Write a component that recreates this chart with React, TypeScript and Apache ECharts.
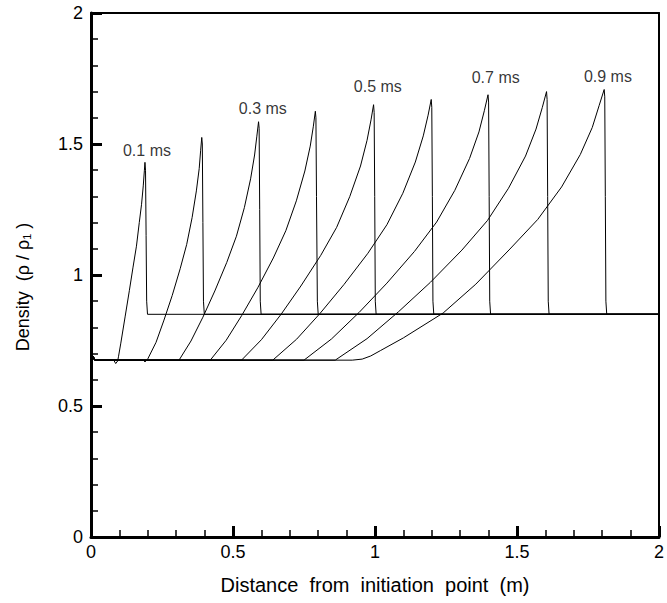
import React, { useEffect, useRef } from "react";
import * as echarts from "echarts";

const xTicks = [0, 0.5, 1, 1.5, 2];
const yTicks = [0, 0.5, 1, 1.5, 2];

const startSegment: number[][] = [[0, 0.5], [0.003, 0.6], [0.005, 0.675], [0.008, 0.69], [0.012, 0.676], [0.02, 0.675]];

const c01: number[][] = [[0.08, 0.675], [0.087, 0.662], [0.094, 0.672], [0.097, 0.69], [0.105, 0.74], [0.12, 0.84], [0.135, 0.94], [0.148, 1.03], [0.16, 1.11], [0.17, 1.2], [0.178, 1.27], [0.184, 1.34], [0.188, 1.4], [0.19, 1.43], [0.192, 1.4], [0.194, 1.15], [0.196, 0.9], [0.199, 0.85], [2, 0.85]];
const c02: number[][] = [[0.185, 0.675], [0.19, 0.668], [0.196, 0.675], [0.2, 0.68], [0.229, 0.743], [0.257, 0.828], [0.286, 0.922], [0.314, 1.024], [0.337, 1.117], [0.356, 1.219], [0.371, 1.321], [0.381, 1.406], [0.386, 1.474], [0.39, 1.525], [0.392, 1.5], [0.394, 1.2], [0.396, 0.9], [0.399, 0.85], [2, 0.85]];
const c03: number[][] = [[0.31, 0.675], [0.352, 0.748], [0.394, 0.839], [0.436, 0.939], [0.478, 1.048], [0.512, 1.148], [0.54, 1.257], [0.562, 1.367], [0.576, 1.458], [0.584, 1.53], [0.59, 1.585], [0.592, 1.56], [0.594, 1.25], [0.596, 0.9], [0.599, 0.85], [2, 0.85]];
const c04: number[][] = [[0.42, 0.675], [0.476, 0.751], [0.531, 0.846], [0.587, 0.951], [0.642, 1.065], [0.686, 1.169], [0.723, 1.283], [0.753, 1.397], [0.772, 1.492], [0.783, 1.568], [0.79, 1.625], [0.792, 1.6], [0.794, 1.3], [0.797, 0.9], [0.8, 0.85], [2, 0.85]];
const c05: number[][] = [[0.53, 0.675], [0.6, 0.753], [0.67, 0.851], [0.739, 0.958], [0.809, 1.075], [0.865, 1.182], [0.911, 1.299], [0.949, 1.416], [0.972, 1.514], [0.986, 1.592], [0.995, 1.65], [0.997, 1.62], [0.999, 1.3], [1.001, 0.9], [1.004, 0.85], [2, 0.85]];
const c06: number[][] = [[0.64, 0.675], [0.724, 0.755], [0.807, 0.854], [0.891, 0.964], [0.975, 1.083], [1.042, 1.192], [1.098, 1.312], [1.142, 1.431], [1.17, 1.531], [1.187, 1.61], [1.198, 1.67], [1.2, 1.64], [1.202, 1.3], [1.204, 0.9], [1.207, 0.85], [2, 0.85]];
const c07: number[][] = [[0.75, 0.675], [0.847, 0.756], [0.944, 0.857], [1.042, 0.969], [1.139, 1.09], [1.217, 1.202], [1.281, 1.323], [1.333, 1.445], [1.366, 1.546], [1.385, 1.627], [1.398, 1.688], [1.4, 1.66], [1.402, 1.3], [1.404, 0.9], [1.407, 0.85], [2, 0.85]];
const c08: number[][] = [[0.86, 0.675], [0.972, 0.757], [1.083, 0.86], [1.195, 0.972], [1.306, 1.095], [1.396, 1.208], [1.47, 1.331], [1.53, 1.454], [1.567, 1.557], [1.589, 1.639], [1.604, 1.7], [1.606, 1.67], [1.608, 1.3], [1.61, 0.9], [1.613, 0.85], [2, 0.85]];
const c09: number[][] = [[0.92, 0.675], [0.955, 0.679], [0.985, 0.691], [1.02, 0.712], [1.1, 0.76], [1.24, 0.855], [1.355, 0.965], [1.475, 1.099], [1.573, 1.212], [1.657, 1.336], [1.723, 1.46], [1.765, 1.563], [1.789, 1.646], [1.807, 1.708], [1.809, 1.68], [1.811, 1.3], [1.813, 0.9], [1.816, 0.85], [2, 0.85]];

const curves = [c01, c02, c03, c04, c05, c06, c07, c08, c09];
const curveNames = ["0.1 ms", "0.2 ms", "0.3 ms", "0.4 ms", "0.5 ms", "0.6 ms", "0.7 ms", "0.8 ms", "0.9 ms"];

const labelTexts = ["0.1 ms", "0.3 ms", "0.5 ms", "0.7 ms", "0.9 ms"];
const labelX = [0.197, 0.605, 1.01, 1.425, 1.82];
const labelY = [1.477, 1.635, 1.72, 1.755, 1.758];

const FONT = "'Liberation Sans', Arial, Helvetica, sans-serif";

export default function App() {
  const ref = useRef<HTMLDivElement>(null);
  useEffect(() => {
    if (!ref.current) return;
    const chart = echarts.init(ref.current, undefined, { renderer: "svg" });
    const lineSeries = curves.map((c, i) => ({
      type: "line",
      name: curveNames[i],
      data: startSegment.concat(c),
      showSymbol: false,
      symbol: "none",
      lineStyle: { color: "#000", width: 1 },
      silent: true,
      z: 3,
    }));
    const labelSeries = {
      type: "scatter",
      symbolSize: 0,
      silent: true,
      data: labelTexts.map((t, i) => ({ value: [labelX[i], labelY[i]], name: t })),
      label: {
        show: true,
        position: "inside",
        formatter: (p: any) => p.name,
        color: "#000",
        fontSize: 16,
        fontFamily: FONT,
      },
      z: 5,
    };
    chart.setOption({
      animation: false,
      backgroundColor: "#fff",
      textStyle: { fontFamily: FONT },
      grid: { left: 91, right: 5, top: 13, bottom: 66, containLabel: false },
      graphic: [
        {
          type: "text",
          x: 23,
          y: 287,
          rotation: Math.PI / 2,
          silent: true,
          style: {
            text: "Density\u00a0\u00a0(ρ / ρ{sub|1} )",
            fill: "#000",
            fontSize: 18,
            fontFamily: FONT,
            align: "center",
            verticalAlign: "middle",
            rich: { sub: { fontSize: 11, padding: [7, 0, 0, 0], fill: "#000", fontFamily: FONT } },
          },
        },
      ],
      xAxis: [
        {
          type: "value",
          min: 0,
          max: 2,
          interval: 0.5,
          name: "Distance  from  initiation  point  (m)",
          nameLocation: "middle",
          nameGap: 38,
          nameTextStyle: { fontSize: 20, color: "#000", fontFamily: FONT },
          axisLine: { show: true, lineStyle: { color: "#000", width: 3 } },
          axisTick: { show: true, inside: true, length: 11, lineStyle: { color: "#000", width: 3 } },
          minorTick: { show: true, splitNumber: 5, length: 7, lineStyle: { color: "#000", width: 1.5 } },
          axisLabel: {
            color: "#000",
            fontSize: 18,
            margin: 6,
            fontFamily: FONT,
            formatter: (v: number) => String(v),
          },
          splitLine: { show: false },
          minorSplitLine: { show: false },
        },
        {
          type: "value",
          position: "top",
          min: 0,
          max: 2,
          axisLine: { show: true, onZero: false, lineStyle: { color: "#000", width: 2 } },
          axisTick: { show: false },
          axisLabel: { show: false },
          splitLine: { show: false },
        },
      ],
      yAxis: [
        {
          type: "value",
          min: 0,
          max: 2,
          interval: 0.5,
          axisLine: { show: true, lineStyle: { color: "#000", width: 3 } },
          axisTick: { show: true, inside: true, length: 11, lineStyle: { color: "#000", width: 3 } },
          minorTick: { show: true, splitNumber: 5, length: 7, lineStyle: { color: "#000", width: 1.5 } },
          axisLabel: {
            color: "#000",
            fontSize: 18,
            margin: 8,
            fontFamily: FONT,
            formatter: (v: number) => String(v),
          },
          splitLine: { show: false },
          minorSplitLine: { show: false },
        },
        {
          type: "value",
          position: "right",
          min: 0,
          max: 2,
          axisLine: { show: true, onZero: false, lineStyle: { color: "#000", width: 2 } },
          axisTick: { show: false },
          axisLabel: { show: false },
          splitLine: { show: false },
        },
      ],
      series: [...lineSeries, labelSeries],
    });
    return () => chart.dispose();
  }, []);
  return <div ref={ref} style={{ width: 667, height: 603, position: "absolute", left: 0, top: 0 }} />;
}
